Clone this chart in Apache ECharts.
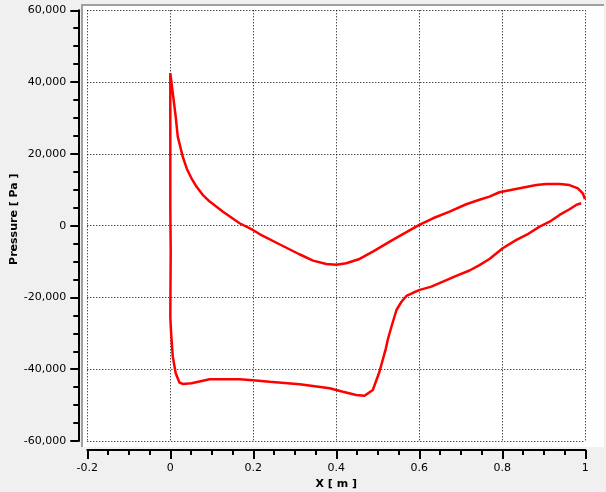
<!DOCTYPE html>
<html>
<head>
<meta charset="utf-8">
<script src="https://cdn.jsdelivr.net/npm/echarts@6/dist/echarts.min.js"></script>
<style>
html,body{margin:0;padding:0;background:#f0f0f0;}
#chart{width:606px;height:492px;}
</style>
</head>
<body>
<div id="chart"></div>
<script>
// Lower surface, from trailing edge to leading edge
const lowerX = [0.990,0.978,0.962,0.938,0.914,0.890,0.858,0.834,0.801,0.769,0.745,0.721,0.689,0.657,0.629,0.601,0.585,0.569,0.557,0.545,0.533,0.524,0.519,0.504,0.488,0.468,0.448,0.416,0.384,0.312,0.239,0.199,0.167,0.095,0.051,0.030,0.022,0.013,0.006,0.002,0.000,0.001,0.000,0.000];
const lowerP = [6240,5770,4570,2980,1110,-280,-2590,-3980,-6300,-9300,-11000,-12500,-14000,-15600,-17000,-17900,-18700,-19600,-21200,-23500,-28100,-31800,-34400,-40700,-45800,-47400,-47200,-46300,-45300,-44200,-43500,-43100,-42800,-42800,-43900,-44100,-43700,-41100,-36500,-30000,-25400,-7000,5000,40000];
// Upper surface, from leading edge to trailing edge
const upperX = [0.000,0.003,0.006,0.013,0.018,0.030,0.040,0.051,0.063,0.078,0.095,0.127,0.167,0.199,0.216,0.263,0.311,0.344,0.376,0.400,0.424,0.456,0.488,0.536,0.553,0.600,0.633,0.673,0.713,0.745,0.769,0.793,0.842,0.882,0.906,0.938,0.962,0.982,0.994,0.999];
const upperP = [42500,42000,36900,30400,24800,19200,15800,13200,10900,8600,6700,3900,670,-1200,-2400,-5180,-7970,-9750,-10670,-10870,-10480,-9280,-7240,-3980,-2870,200,2060,3900,5960,7200,8100,9300,10400,11300,11600,11600,11300,10400,9000,7400];
const xTicks = {min: -0.2, max: 1, interval: 0.2};
const yTicks = {min: -60000, max: 60000, interval: 20000};

const data = [];
lowerX.forEach((x, i) => data.push([x, lowerP[i]]));
upperX.forEach((x, i) => data.push([x, upperP[i]]));

const chart = echarts.init(document.getElementById('chart'));
const labelFont = {fontFamily: 'DejaVu Sans', fontSize: 11, color: '#000'};
chart.setOption({
  backgroundColor: '#f0f0f0',
  animation: false,
  graphic: {
    elements: [
      {type: 'rect', z: -10, shape: {x: 82, y: 5, width: 522, height: 442}, style: {fill: '#ffffff'}},
      {type: 'line', z: -9, shape: {x1: 82, y1: 4, x2: 82, y2: 447}, style: {stroke: '#a0a0a0', lineWidth: 2}},
      {type: 'line', z: -9, shape: {x1: 81, y1: 5, x2: 604, y2: 5}, style: {stroke: '#a0a0a0', lineWidth: 2}}
    ]
  },
  grid: {left: 87.3, right: 20.7, top: 10.3, bottom: 51, containLabel: false, outerBoundsMode: 'none'},
  xAxis: {
    type: 'value',
    min: xTicks.min, max: xTicks.max, interval: xTicks.interval,
    offset: 9,
    name: 'X [ m ]',
    nameLocation: 'middle',
    nameGap: 29,
    nameMoveOverlap: false,
    nameTextStyle: {fontFamily: 'DejaVu Sans', fontSize: 11, fontWeight: 'bold', color: '#000'},
    axisLine: {show: true, onZero: false, lineStyle: {color: '#000', width: 2}},
    axisTick: {show: true, length: 9, lineStyle: {color: '#000', width: 2}},
    minorTick: {show: true, splitNumber: 4, length: 5, lineStyle: {color: '#000', width: 2}},
    axisLabel: Object.assign({margin: 13}, labelFont),
    splitLine: {show: true, lineStyle: {color: '#000', width: 1, type: [1, 2]}}
  },
  yAxis: {
    type: 'value',
    min: yTicks.min, max: yTicks.max, interval: yTicks.interval,
    offset: 9,
    name: 'Pressure [ Pa ]',
    nameLocation: 'middle',
    nameGap: 59,
    nameMoveOverlap: false,
    nameTextStyle: {fontFamily: 'DejaVu Sans', fontSize: 11, fontWeight: 'bold', color: '#000', padding: [0, 0, 0, 13]},
    axisLine: {show: true, onZero: false, lineStyle: {color: '#000', width: 2}},
    axisTick: {show: true, length: 8, lineStyle: {color: '#000', width: 2}},
    minorTick: {show: true, splitNumber: 4, length: 5, lineStyle: {color: '#000', width: 2}},
    axisLabel: Object.assign({margin: 12, formatter: v => v.toLocaleString('en-US')}, labelFont),
    splitLine: {show: true, lineStyle: {color: '#000', width: 1, type: [1, 2]}}
  },
  series: [{
    type: 'line',
    data: data,
    symbol: 'none',
    lineStyle: {color: '#ff0000', width: 2.5},
    clip: false
  }]
});
</script>
</body>
</html>
